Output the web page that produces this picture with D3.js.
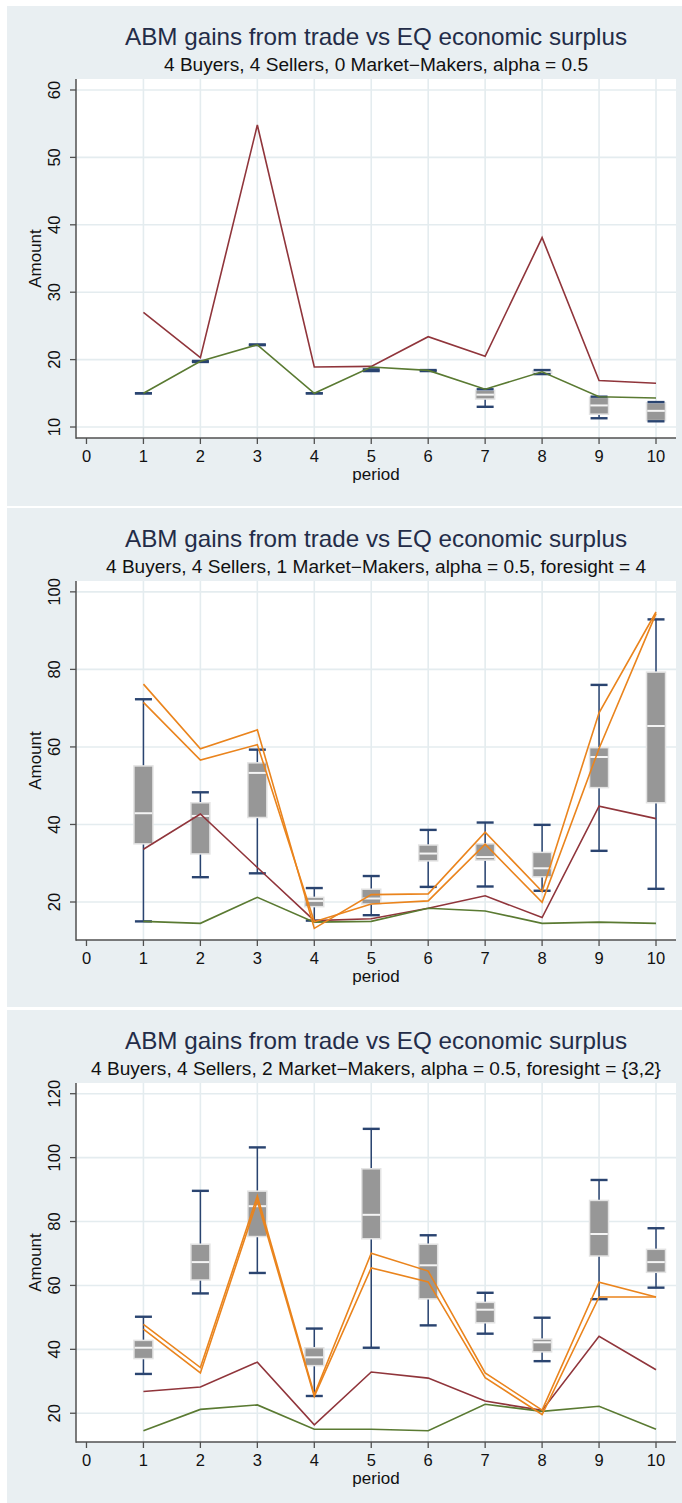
<!DOCTYPE html>
<html><head><meta charset="utf-8">
<script src="https://cdn.jsdelivr.net/npm/d3@7"></script>
<style>html,body{margin:0;padding:0;background:#fff;} svg{display:block;}</style>
</head><body><svg id="chart" width="682" height="1503"></svg>
<script>
// ---------------- data ----------------
const periods = [1,2,3,4,5,6,7,8,9,10];
const xTickValues = [0,1,2,3,4,5,6,7,8,9,10];
const titleText = "ABM gains from trade vs EQ economic surplus";
const subtitles = [
  "4 Buyers, 4 Sellers, 0 Market\u2212Makers, alpha = 0.5",
  "4 Buyers, 4 Sellers, 1 Market\u2212Makers, alpha = 0.5, foresight = 4",
  "4 Buyers, 4 Sellers, 2 Market\u2212Makers, alpha = 0.5, foresight = {3,2}"
];
const xLabel = "period";
const yLabel = "Amount";

const yTicks1 = [10,20,30,40,50,60];
const yTicks2 = [20,40,60,80,100];
const yTicks3 = [20,40,60,80,100,120];
const yDomain1 = [8.37, 61.63];
const yDomain2 = [10.2, 102.8];
const yDomain3 = [11.0, 123.35];

// box stats per period: [min, q1, median, q3, max]
const boxes1 = [
  [15.0,15.0,15.0,15.0,15.0],[19.65,19.7,19.7,19.7,19.8],[22.15,22.2,22.2,22.2,22.25],
  [15.0,15.0,15.0,15.0,15.0],[18.3,18.4,18.4,18.4,18.55],[18.3,18.35,18.35,18.35,18.45],
  [13.0,14.15,14.8,15.45,15.6],[17.85,17.95,18.15,18.35,18.45],[11.3,11.9,13.2,14.4,14.5],
  [10.85,10.95,12.4,13.6,13.7]
];
const boxes2 = [
  [15.0,35.0,42.9,55.1,72.3],[26.4,32.4,42.2,45.6,48.3],[27.4,41.8,53.3,55.9,59.3],
  [15.2,18.8,20.3,21.2,23.6],[16.6,19.5,20.9,23.3,26.7],[23.9,30.6,32.5,34.7,38.6],
  [24.0,30.8,31.6,35.0,40.5],[22.9,26.5,28.7,32.8,39.9],[33.2,49.5,57.4,59.8,76.0],
  [23.4,45.6,65.4,79.3,92.9]
];
const boxes3 = [
  [32.3,37.1,40.5,42.8,50.2],[57.5,61.7,67.3,72.9,89.6],[63.9,75.3,84.8,89.5,103.2],
  [25.4,34.9,37.5,40.5,46.5],[40.5,74.6,82.1,96.5,109.0],[47.5,55.8,66.3,72.9,75.7],
  [44.9,48.3,52.4,54.7,57.7],[36.3,39.2,42.2,43.2,49.9],[55.7,69.2,76.1,86.6,93.0],
  [59.3,64.1,67.3,71.3,77.9]
];

const maroon1 = [27.0,20.3,54.8,18.9,19.0,23.4,20.5,38.1,16.9,16.5];
const green1  = [15.0,19.75,22.2,15.0,18.9,18.4,15.6,18.2,14.5,14.3];

const maroon2 = [33.6,42.7,28.9,15.2,15.7,18.4,21.6,16.0,44.7,41.5];
const green2  = [15.0,14.5,21.2,14.8,15.0,18.4,17.7,14.5,14.8,14.5];
const orangeA2 = [76.2,59.5,64.4,13.2,21.9,22.1,38.0,22.7,68.8,94.8];
const orangeB2 = [71.5,56.6,60.6,14.9,19.5,20.3,34.9,19.9,59.6,94.4];

const maroon3 = [26.8,28.2,36.0,16.4,32.9,31.0,23.8,20.9,44.1,33.6];
const green3  = [14.5,21.2,22.6,15.0,15.0,14.5,22.8,20.6,22.2,15.0];
const orangeA3 = [47.8,34.3,88.0,25.8,70.1,64.5,32.6,21.0,61.0,56.4];
const orangeB3 = [46.3,32.6,86.5,25.3,65.5,61.1,31.1,19.6,56.4,56.4];

// ---------------- style / layout ----------------
const W = 682, H = 1503;
const C = {
  bg: "#e9eff2", grid: "#e4ecef", axis: "#505050", navy: "#2a4470",
  boxFill: "#979797", boxStroke: "#e3e3e3", maroon: "#90353b",
  green: "#5a7a32", orange: "#ea841d", title: "#232c48", text: "#111"
};
const FONT = "'Liberation Sans', Arial, Helvetica, sans-serif";
const panelTops = [6, 508, 1010];
const panelHeights = [500, 499, 493];
const plotL = 76, plotR = 676, plotTopOff = 73, plotBotOff = 432;
const xDomain = [-0.184, 10.351];

const panels = [
  { sub: subtitles[0], yTicks: yTicks1, yDomain: yDomain1, boxes: boxes1,
    lines: [[maroon1, C.maroon], [green1, C.green]], subW: 424 },
  { sub: subtitles[1], yTicks: yTicks2, yDomain: yDomain2, boxes: boxes2,
    lines: [[maroon2, C.maroon], [green2, C.green], [orangeA2, C.orange], [orangeB2, C.orange]], subW: 540 },
  { sub: subtitles[2], yTicks: yTicks3, yDomain: yDomain3, boxes: boxes3,
    lines: [[maroon3, C.maroon], [green3, C.green], [orangeA3, C.orange], [orangeB3, C.orange]], subW: 570 }
];

const svg = d3.select("#chart");
svg.append("rect").attr("width", W).attr("height", H).attr("fill", "#fff");

panels.forEach((p, i) => {
  const top = panelTops[i];
  const g = svg.append("g");
  const y0 = top + plotTopOff, y1 = top + plotBotOff;
  g.append("rect").attr("x", 7).attr("y", top).attr("width", W - 7)
    .attr("height", panelHeights[i]).attr("fill", C.bg);
  g.append("rect").attr("x", plotL).attr("y", y0).attr("width", plotR - plotL)
    .attr("height", y1 - y0).attr("fill", "#fff");

  const x = d3.scaleLinear().domain(xDomain).range([plotL, plotR]);
  const y = d3.scaleLinear().domain(p.yDomain).range([y1, y0]);
  const cx = (plotL + plotR) / 2;

  // titles
  g.append("text").attr("x", cx).attr("y", top + 38.5).attr("text-anchor", "middle")
    .attr("font-family", FONT).attr("font-size", 24).attr("fill", C.title)
    .attr("textLength", 502).attr("lengthAdjust", "spacingAndGlyphs").text(titleText);
  g.append("text").attr("x", cx).attr("y", top + 65).attr("text-anchor", "middle")
    .attr("font-family", FONT).attr("font-size", 17.5).attr("fill", C.text)
    .attr("textLength", p.subW).attr("lengthAdjust", "spacingAndGlyphs").text(p.sub);

  // grid
  g.selectAll(".vg").data(xTickValues.filter(v => v > 0)).enter().append("line")
    .attr("x1", d => x(d)).attr("x2", d => x(d)).attr("y1", y0).attr("y2", y1)
    .attr("stroke", C.grid).attr("stroke-width", 1.6);
  g.selectAll(".hg").data(p.yTicks).enter().append("line")
    .attr("x1", plotL).attr("x2", plotR).attr("y1", d => y(d)).attr("y2", d => y(d))
    .attr("stroke", C.grid).attr("stroke-width", 1.6);

  // boxes
  const bw = 19, cw = 17;
  const bg = g.append("g");
  p.boxes.forEach((b, j) => {
    const px = x(periods[j]);
    const [mn, q1, md, q3, mx] = b;
    bg.append("line").attr("x1", px).attr("x2", px).attr("y1", y(q3)).attr("y2", y(mx))
      .attr("stroke", C.navy).attr("stroke-width", 1.5);
    bg.append("line").attr("x1", px).attr("x2", px).attr("y1", y(q1)).attr("y2", y(mn))
      .attr("stroke", C.navy).attr("stroke-width", 1.5);
    if (y(q1) - y(q3) > 0.5) {
      bg.append("rect").attr("x", px - bw / 2).attr("y", y(q3)).attr("width", bw)
        .attr("height", y(q1) - y(q3)).attr("fill", C.boxFill)
        .attr("stroke", C.boxStroke).attr("stroke-width", 1.5);
      bg.append("line").attr("x1", px - bw / 2 + 0.75).attr("x2", px + bw / 2 - 0.75)
        .attr("y1", y(md)).attr("y2", y(md)).attr("stroke", "#f4f4f4").attr("stroke-width", 2);
    }
    [mn, mx].forEach(v => {
      bg.append("line").attr("x1", px - cw / 2).attr("x2", px + cw / 2)
        .attr("y1", y(v)).attr("y2", y(v)).attr("stroke", C.navy).attr("stroke-width", 2.4);
    });
  });

  // lines
  const line = d3.line().x((d, j) => x(periods[j])).y(d => y(d));
  p.lines.forEach(([vals, col]) => {
    g.append("path").datum(vals).attr("d", line).attr("fill", "none")
      .attr("stroke", col).attr("stroke-width", 1.6).attr("stroke-linejoin", "miter");
  });

  // axes
  g.append("line").attr("x1", plotL).attr("x2", plotL).attr("y1", y0).attr("y2", y1 + 0.75)
    .attr("stroke", C.axis).attr("stroke-width", 1.5);
  g.append("line").attr("x1", plotL).attr("x2", plotR).attr("y1", y1).attr("y2", y1)
    .attr("stroke", C.axis).attr("stroke-width", 1.5);
  g.selectAll(".yt").data(p.yTicks).enter().append("line")
    .attr("x1", plotL - 6).attr("x2", plotL).attr("y1", d => y(d)).attr("y2", d => y(d))
    .attr("stroke", C.axis).attr("stroke-width", 1.3);
  g.selectAll(".ytl").data(p.yTicks).enter().append("text")
    .attr("transform", d => `translate(60,${y(d)}) rotate(-90)`)
    .attr("text-anchor", "middle").attr("font-family", FONT).attr("font-size", 16.5)
    .attr("fill", C.text).text(d => d);
  g.selectAll(".xt").data(xTickValues).enter().append("line")
    .attr("x1", d => x(d)).attr("x2", d => x(d)).attr("y1", y1).attr("y2", y1 + 6)
    .attr("stroke", C.axis).attr("stroke-width", 1.3);
  g.selectAll(".xtl").data(xTickValues).enter().append("text")
    .attr("x", d => x(d)).attr("y", y1 + 23.5).attr("text-anchor", "middle")
    .attr("font-family", FONT).attr("font-size", 16.5).attr("fill", C.text).text(d => d);

  g.append("text").attr("x", cx).attr("y", y1 + 42).attr("text-anchor", "middle")
    .attr("font-family", FONT).attr("font-size", 17).attr("fill", C.text).text(xLabel);
  g.append("text").attr("transform", `translate(41,${(y0 + y1) / 2}) rotate(-90)`)
    .attr("text-anchor", "middle").attr("font-family", FONT).attr("font-size", 17)
    .attr("fill", C.text).text(yLabel);
});
</script>
</body></html>
